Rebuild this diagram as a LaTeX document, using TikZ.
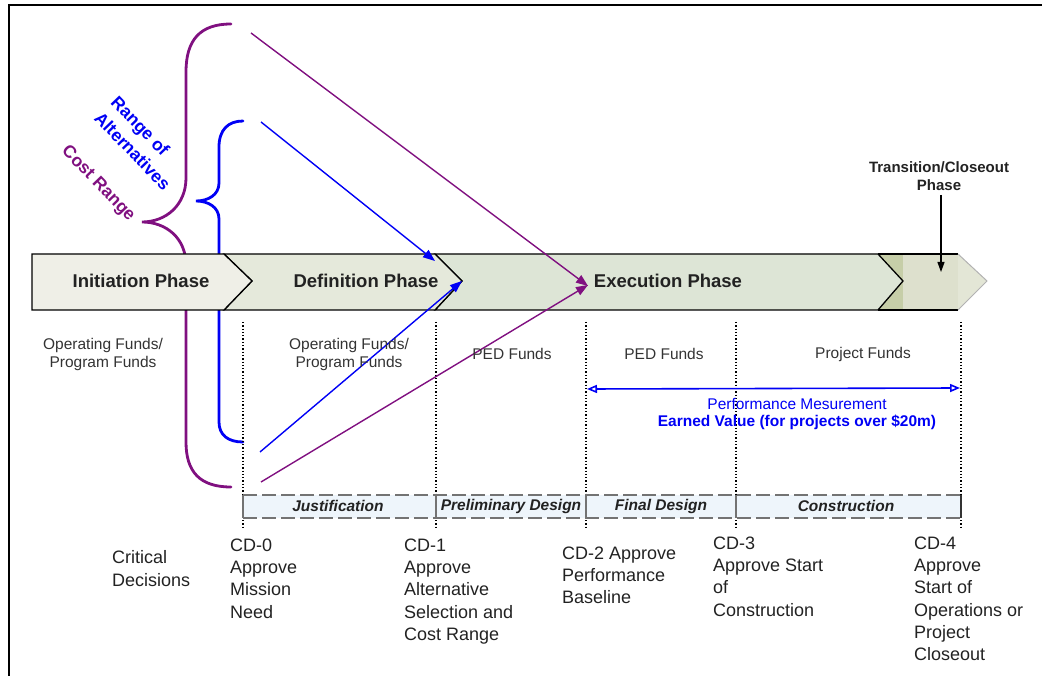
\documentclass[tikz,border=0pt]{standalone}
\usepackage{fontspec}
\setmainfont{Liberation Sans}
\usetikzlibrary{arrows.meta}
\definecolor{pur}{RGB}{128,16,128}
\definecolor{blu}{RGB}{0,0,245}
\definecolor{txt}{RGB}{34,34,34}
\definecolor{initc}{RGB}{239,239,231}
\definecolor{defc}{RGB}{229,233,219}
\definecolor{exec}{RGB}{221,229,214}
\definecolor{olivec}{RGB}{198,206,168}
\definecolor{transc}{RGB}{221,224,205}
\definecolor{tipc}{RGB}{227,230,214}
\definecolor{bandc}{RGB}{238,245,251}
\begin{document}
\begin{tikzpicture}[x=1pt,y=-1pt,
  phase/.style={font=\fontsize{18.5}{22}\selectfont\bfseries, text=txt, inner sep=0},
  funds/.style={font=\fontsize{15.5}{18}\selectfont, text=black!80, align=center, inner sep=0},
  cd/.style={font=\fontsize{18}{22.3}\selectfont, text=txt, align=left, anchor=north west, inner sep=0},
  stage/.style={font=\fontsize{15.5}{18}\selectfont\bfseries\itshape, text=txt, inner sep=0},
  conn/.style={-{Triangle[length=12pt,width=9pt]}, line width=1.4pt},
  bracestyle/.style={line width=2.8pt, line cap=round},
  dotv/.style={dotted, line width=1.3pt},
  rot/.style={font=\fontsize{17.5}{23}\selectfont\bfseries, align=left, rotate=-46, inner sep=0}]
\useasboundingbox (0,0) rectangle (1042,676);
% frame
\draw[line width=2.6pt] (9,676) -- (9,5) -- (1042,5);

% braces
\draw[bracestyle, pur] (231,24) .. controls (200,24) and (186,40) .. (186,72) -- (186,178)
  .. controls (186,205) and (166,222) .. (142,222)
  .. controls (166,222) and (186,238) .. (186,265) -- (186,442)
  .. controls (186,472) and (200,487) .. (231,487);
\draw[bracestyle, blu] (243,121) .. controls (228,121) and (219,130) .. (219,147) -- (219,183)
  .. controls (219,195) and (208,201) .. (196,201)
  .. controls (208,201) and (219,207) .. (219,219) -- (219,422)
  .. controls (219,435) and (228,442) .. (243,442);

\node[rot, text=blu] (alt) at (141,143) {Range of\\Alternatives};
\node[rot, text=pur] (cost) at (98,184) {Cost Range};

% dotted verticals
\foreach \x in {243,436,586,736,961} \draw[dotv] (\x,322) -- (\x,528);

% phase band
\fill[olivec] (878,254) rectangle (903,310);
\fill[transc] (903,254) rectangle (958,310);
\draw[line width=1.3pt] (878,254) -- (958,254) (878,310) -- (958,310);
\filldraw[fill=tipc, draw=gray!60, line width=1pt] (958,254) -- (987,281) -- (958,310);
\filldraw[fill=exec, line width=1.3pt] (435,254) -- (878,254) -- (903,281) -- (878,310) -- (435,310) -- (462,281) -- cycle;
\filldraw[fill=defc, line width=1.3pt] (224,254) -- (435,254) -- (462,281) -- (435,310) -- (224,310) -- (252,281) -- cycle;
\filldraw[fill=initc, line width=1.3pt] (32,254) -- (224,254) -- (252,281) -- (224,310) -- (32,310) -- cycle;

\node[phase] (init) at (141,281) {Initiation Phase};
\node[phase] (defn) at (366,281) {Definition Phase};
\node[phase] (execn) at (668,281) {Execution Phase};

% transition label and arrow
\node[font=\fontsize{15}{18}\selectfont\bfseries, text=txt, align=center, inner sep=0] (trans) at (939,176) {Transition/Closeout\\Phase};
\coordinate (transPt) at (941,272);
\draw[-{Triangle[length=10pt,width=7pt]}, line width=1.1pt] (941,195) -- (transPt);

% converging arrows
\coordinate (pTopS) at (251,33);
\coordinate (bTopS) at (261,122);
\coordinate (bBotS) at (260,452);
\coordinate (pBotS) at (261,482);
\coordinate (defTip) at (435,261);
\coordinate (defNose) at (462,281);
\coordinate (exeA) at (588,286);
\coordinate (exeB) at (588,285);
\draw[conn, pur] (pTopS) -- (exeA);
\draw[conn, blu] (bTopS) -- (defTip);
\draw[conn, blu] (bBotS) -- (defNose);
\draw[conn, pur] (pBotS) -- (exeB);

% funds
\node[funds] (f1) at (103,354) {Operating Funds/\\Program Funds};
\node[funds] (f2) at (349,354) {Operating Funds/\\Program Funds};
\node[funds] (f3) at (512,354) {PED Funds};
\node[funds] (f4) at (664,354) {PED Funds};
\node[funds] (f5) at (863,354) {Project Funds};

% performance measurement
\coordinate (pmL) at (587,389);
\coordinate (pmR) at (960,388);
\draw[blu, line width=1.6pt, {Triangle[open,length=10pt,width=8pt]}-{Triangle[open,length=10pt,width=8pt]}] (pmL) -- (pmR);
\node[font=\fontsize{15.5}{18}\selectfont, text=blu, inner sep=0] (pm) at (797,404) {Performance Mesurement};
\node[font=\fontsize{15.5}{18}\selectfont\bfseries, text=blu, inner sep=0] (ev) at (797,422) {Earned Value (for projects over \$20m)};

% stage band
\fill[bandc] (243,495) rectangle (961,518);
\draw[gray!90!black, dashed, dash pattern=on 14pt off 5pt, line width=1.6pt] (243,495) -- (961,495) (243,518) -- (961,518);
\foreach \x in {436,586,736} \draw[gray!90!black, line width=1.1pt] (\x,495) -- (\x,518);
\draw[black!80, line width=1.2pt] (961,495) -- (961,518);
\draw[gray!90!black, line width=1.1pt] (243,495) -- (243,518);
\node[stage] (s1) at (338,506) {Justification};
\node[stage] (s2) at (511,506) {Preliminary Design};
\node[stage] (s3) at (661,506) {Final Design};
\node[stage] (s4) at (846,506) {Construction};

% critical decisions
\node[cd] (crit) at (112,550.5) {Critical\\Decisions};
\node[cd] (cd0) at (230,538.5) {CD-0\\Approve\\Mission\\Need};
\node[cd] (cd1) at (404,538.5) {CD-1\\Approve\\Alternative\\Selection and\\Cost Range};
\node[cd] (cd2) at (562,546.5) {CD-2 Approve\\Performance\\Baseline};
\node[cd] (cd3) at (713,536.5) {CD-3\\Approve Start\\of\\Construction};
\node[cd] (cd4) at (914,536.5) {CD-4\\Approve\\Start of\\Operations or\\Project\\Closeout};
\end{tikzpicture}
\end{document}
